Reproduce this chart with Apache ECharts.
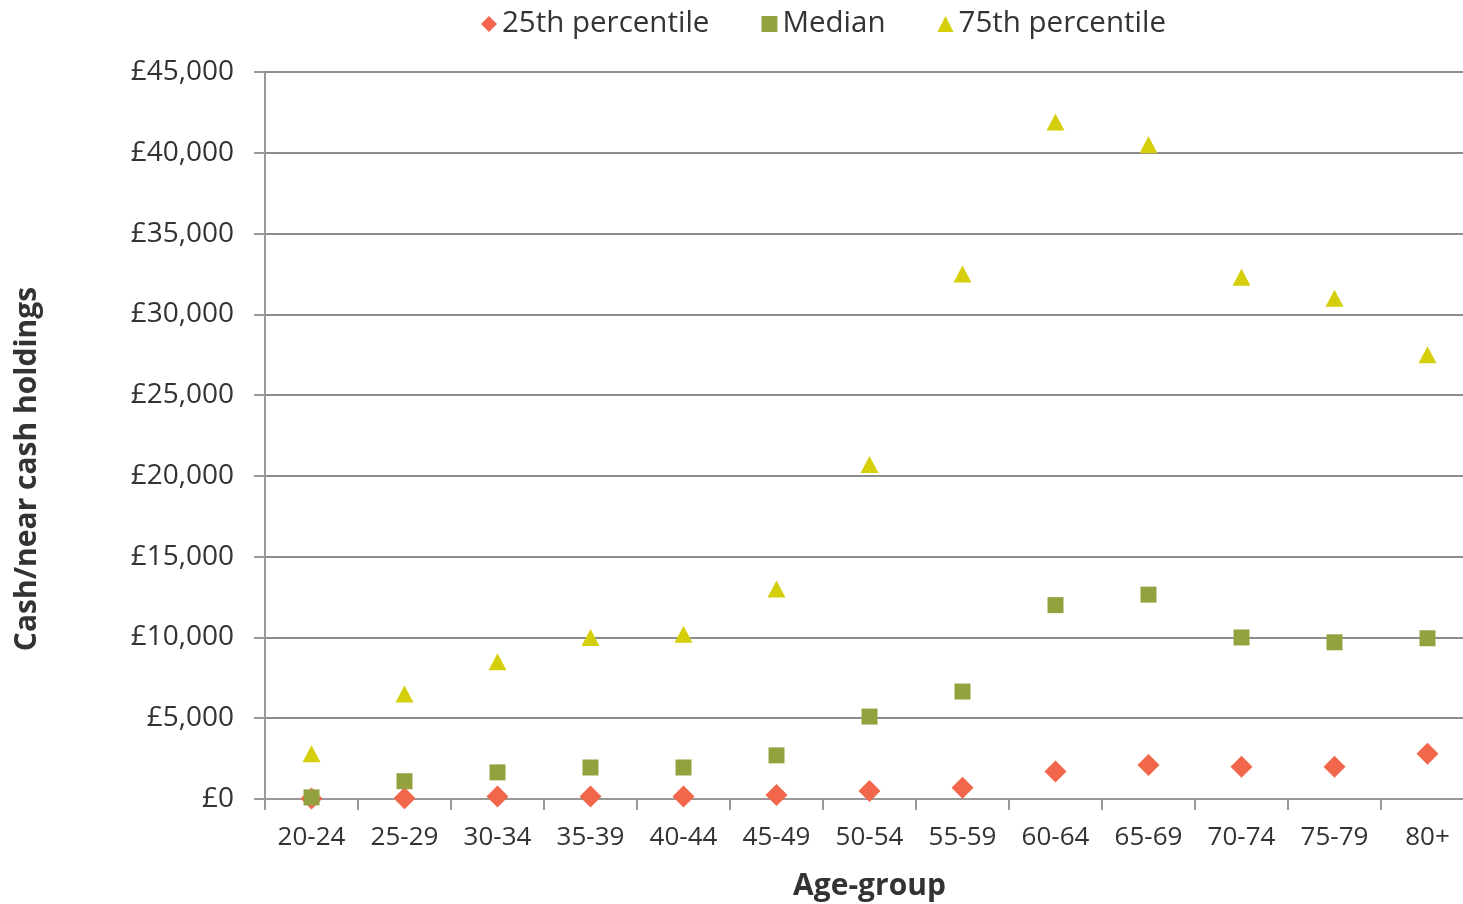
<!DOCTYPE html>
<html><head><meta charset="utf-8">
<script src="https://cdn.jsdelivr.net/npm/echarts@6/dist/echarts.min.js"></script>
<style>html,body{margin:0;padding:0;background:#fff;overflow:hidden}#c{width:1463px;height:904px}</style>
</head><body><div id="c"></div>
<script>
const categories = ['20-24','25-29','30-34','35-39','40-44','45-49','50-54','55-59','60-64','65-69','70-74','75-79','80+'];
const p25 = [30, 40, 150, 150, 150, 250, 500, 700, 1700, 2100, 2000, 2000, 2800];
const median = [100, 1100, 1650, 1950, 1950, 2700, 5100, 6650, 12000, 12650, 10000, 9700, 9950];
const p75 = [2800, 6500, 8500, 10000, 10200, 13000, 20700, 32500, 41900, 40500, 32300, 31000, 27500];
const yTicks = {min: 0, max: 45000, interval: 5000};
const yTitle = 'Cash/near cash holdings';
const xTitle = 'Age-group';

const font = '"Open Sans", "Noto Sans", sans-serif';
const chart = echarts.init(document.getElementById('c'));
chart.setOption({
  animation: false,
  textStyle: {fontFamily: font},
  legend: {
    top: 4, left: 476,
    itemGap: 52, itemWidth: 16, itemHeight: 16,
    textStyle: {fontSize: 29.5, color: '#333', fontFamily: font},
    data: [
      {name: '25th percentile', icon: 'diamond', itemStyle: {color: '#f2674c'}},
      {name: 'Median', icon: 'rect', itemStyle: {color: '#93a23f'}},
      {name: '75th percentile', icon: 'triangle', itemStyle: {color: '#d4cf0a'}}
    ]
  },
  graphic: [{
    type: 'text', x: 27, y: 469, rotation: Math.PI / 2,
    style: {text: yTitle, x: 0, y: 0, align: 'center', verticalAlign: 'middle',
      font: 'bold 30px ' + font, fill: '#333'}
  }],
  grid: {left: 265, top: 72, width: 1209, height: 727, containLabel: false, outerBoundsMode: 'none'},
  xAxis: {
    type: 'category', data: categories, boundaryGap: true,
    name: xTitle, nameLocation: 'middle', nameGap: 72,
    nameTextStyle: {fontSize: 30, fontWeight: 'bold', color: '#333', fontFamily: font},
    axisLine: {lineStyle: {color: '#999', width: 2}},
    axisTick: {show: true, length: 11, alignWithLabel: false, lineStyle: {color: '#999', width: 2}},
    axisLabel: {fontSize: 26, color: '#333', margin: 26, fontFamily: font}
  },
  yAxis: {
    type: 'value', min: yTicks.min, max: yTicks.max, interval: yTicks.interval,
    axisLine: {show: true, lineStyle: {color: '#999', width: 2}},
    axisTick: {show: true, length: 11, lineStyle: {color: '#999', width: 2}},
    splitLine: {lineStyle: {color: '#8c8c8c', width: 2}},
    axisLabel: {fontSize: 28, color: '#333', margin: 31, fontFamily: font,
      formatter: v => '£' + v.toLocaleString('en-GB')}
  },
  series: [
    {name: '25th percentile', type: 'scatter', data: p25, symbol: 'diamond', symbolSize: 22, itemStyle: {color: '#f2674c', opacity: 1}},
    {name: 'Median', type: 'scatter', data: median, symbol: 'rect', symbolSize: 16, itemStyle: {color: '#93a23f', opacity: 1}},
    {name: '75th percentile', type: 'scatter', data: p75, symbol: 'triangle', symbolSize: [18, 17], itemStyle: {color: '#d4cf0a', opacity: 1}}
  ]
});
</script></body></html>
